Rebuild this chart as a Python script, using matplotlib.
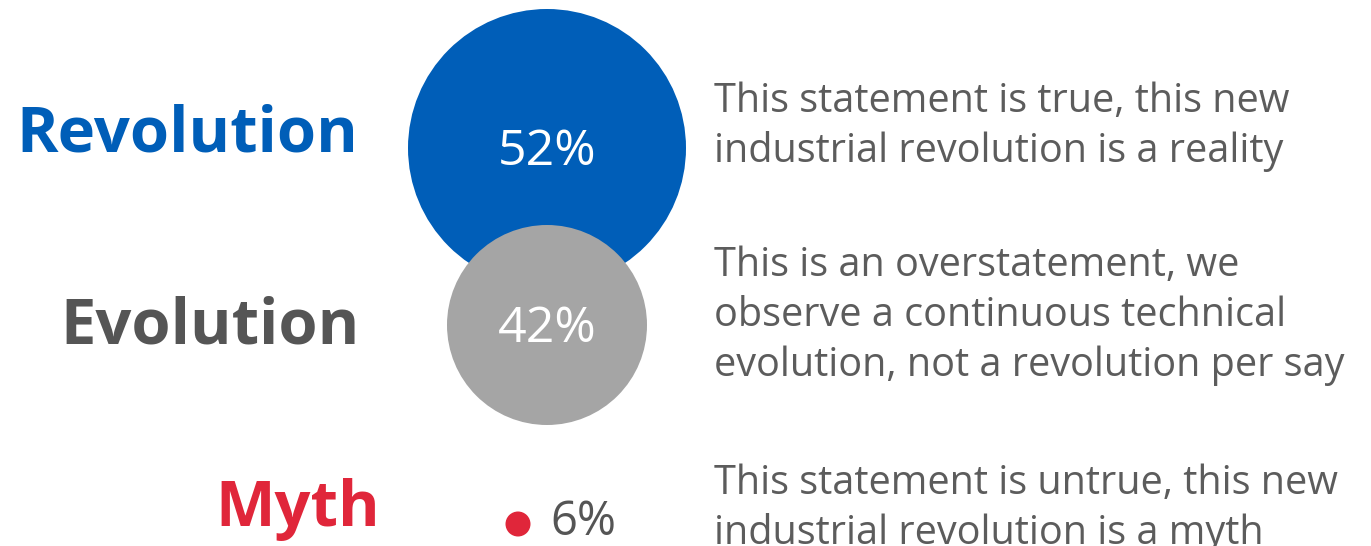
import matplotlib.pyplot as plt
from matplotlib.patches import Circle

labels = ['Revolution', 'Evolution', 'Myth']
values = [52, 42, 6]
descriptions = [
    ['This statement is true, this new', 'industrial revolution is a reality'],
    ['This is an overstatement, we', 'observe a continuous technical',
     'evolution, not a revolution per say'],
    ['This statement is untrue, this new', 'industrial revolution is a myth'],
]

label_colors = ['#005eb8', '#555555', '#e0263a']
bubble_colors = ['#005eb8', '#a5a5a5', '#e0263a']
text_grey = '#5c5c5c'
font = 'Open Sans'

# layout in pixel units (figure is 1371 x 546)
bubble_xy = [(547, 148), (547, 325), (518, 524)]
bubble_r = [139, 100, 12.5]
label_pos = [(358, 152), (360, 344), (380, 526)]
desc_pos = [(714, 112), (714, 276), (714, 494)]
line_step = 50

fig = plt.figure(figsize=(13.71, 5.46), dpi=100)
ax = fig.add_axes([0, 0, 1, 1])
ax.set_xlim(0, 1371)
ax.set_ylim(546, 0)
ax.axis('off')

for i, (lab, val) in enumerate(zip(labels, values)):
    x, y = bubble_xy[i]
    ax.add_patch(Circle((x, y), bubble_r[i], color=bubble_colors[i], lw=0, zorder=i + 1))

    lx, ly = label_pos[i]
    ax.text(lx, ly, lab, ha='right', va='baseline', fontsize=45.5,
            fontweight='bold', color=label_colors[i], family=font)

    if i < 2:
        ax.text(x, y + 17, f'{val}%', ha='center', va='baseline', fontsize=36,
                color='white', family=font, zorder=5)
    else:
        ax.text(x + 32, y + 11, f'{val}%', ha='left', va='baseline', fontsize=34,
                color='#555555', family=font)

    dx, dy = desc_pos[i]
    for k, line in enumerate(descriptions[i]):
        ax.text(dx, dy + k * line_step, line, ha='left', va='baseline', fontsize=28.5,
                color=text_grey, family=font)

fig.savefig('out.png', dpi=100)
